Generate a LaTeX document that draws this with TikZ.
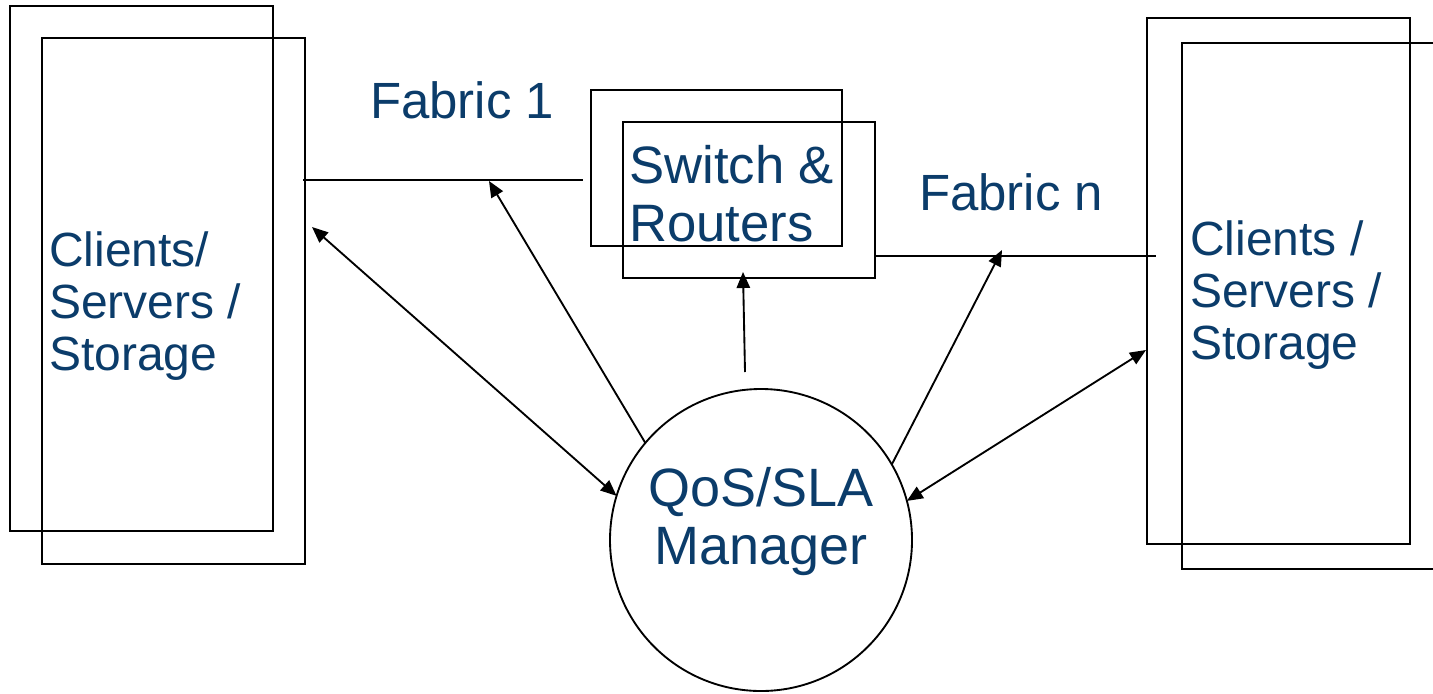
\documentclass[tikz,border=0pt]{standalone}
\usepackage{fontspec}
\setmainfont{Liberation Sans}
\usetikzlibrary{arrows.meta}
\definecolor{txtblue}{HTML}{0B3C6A}
\begin{document}
\begin{tikzpicture}[x=0.75pt,y=-0.75pt,
  box/.style={draw,line width=1.4pt,inner sep=0pt,outer sep=0pt},
  lbl/.style={text=txtblue,inner sep=0pt,align=left},
  conn/.style={line width=1.4pt},
  arr/.style={line width=1.4pt,-{Triangle[length=12pt,width=10pt]}},
  darr/.style={line width=1.4pt,{Triangle[length=12pt,width=10pt]}-{Triangle[length=12pt,width=10pt]}}]
\useasboundingbox (0,0) rectangle (1433,693);
% left boxes
\node[box,minimum width=197.25pt,minimum height=393.75pt] (lb) at (141.5,268.5) {};
\node[box,minimum width=197.25pt,minimum height=394.5pt] (lf) at (173.5,301) {};
% switch boxes
\node[box,minimum width=188.25pt,minimum height=117pt] (sb) at (716.5,168) {};
\node[box,minimum width=189pt,minimum height=117pt] (sf) at (749,200) {};
% right boxes
\node[box,minimum width=197.25pt,minimum height=394.5pt] (rb) at (1278.5,281) {};
\node[box,minimum width=197.25pt,minimum height=394.5pt] (rf) at (1313.5,306) {};
% circle
\node[box,circle,minimum size=226.5pt] (qos) at (761,540) {};
% labels
\node[lbl,anchor=west,font=\fontsize{36}{39}\selectfont] (lt) at (49,306) {Clients/\\Servers /\\Storage};
\node[lbl,anchor=west,font=\fontsize{36}{39}\selectfont] (rt) at (1190,295) {Clients /\\Servers /\\Storage};
\node[lbl,anchor=west,font=\fontsize{39.5}{43.5}\selectfont] (st) at (629,194) {Switch \&\\Routers};
\node[lbl,align=center,font=\fontsize{40.5}{43.5}\selectfont] (qt) at (761,522) {QoS/SLA\\Manager};
\node[lbl,font=\fontsize{38.2}{40}\selectfont] (f1) at (462,100) {Fabric 1};
\node[lbl,font=\fontsize{38.2}{40}\selectfont] (fn) at (1011,192) {Fabric n};
% fabric lines
\coordinate (l1a) at (303,180);
\coordinate (l1b) at (583,180);
\coordinate (l2a) at (876,256);
\coordinate (l2b) at (1156,256);
\draw[conn] (l1a) -- (l1b);
\draw[conn] (l2a) -- (l2b);
% arrow ends
\coordinate (t1) at (312,227);
\coordinate (t2) at (489,181);
\coordinate (t3) at (743,272);
\coordinate (s3) at (745,372);
\coordinate (t4) at (1002,250);
\coordinate (t5) at (1146,350);
\draw[darr] (t1) -- (qos.163);
\draw[arr] (qos.140) -- (t2);
\draw[arr] (s3) -- (t3);
\draw[arr] (qos.30) -- (t4);
\draw[darr] (qos.15) -- (t5);
\end{tikzpicture}
\end{document}
